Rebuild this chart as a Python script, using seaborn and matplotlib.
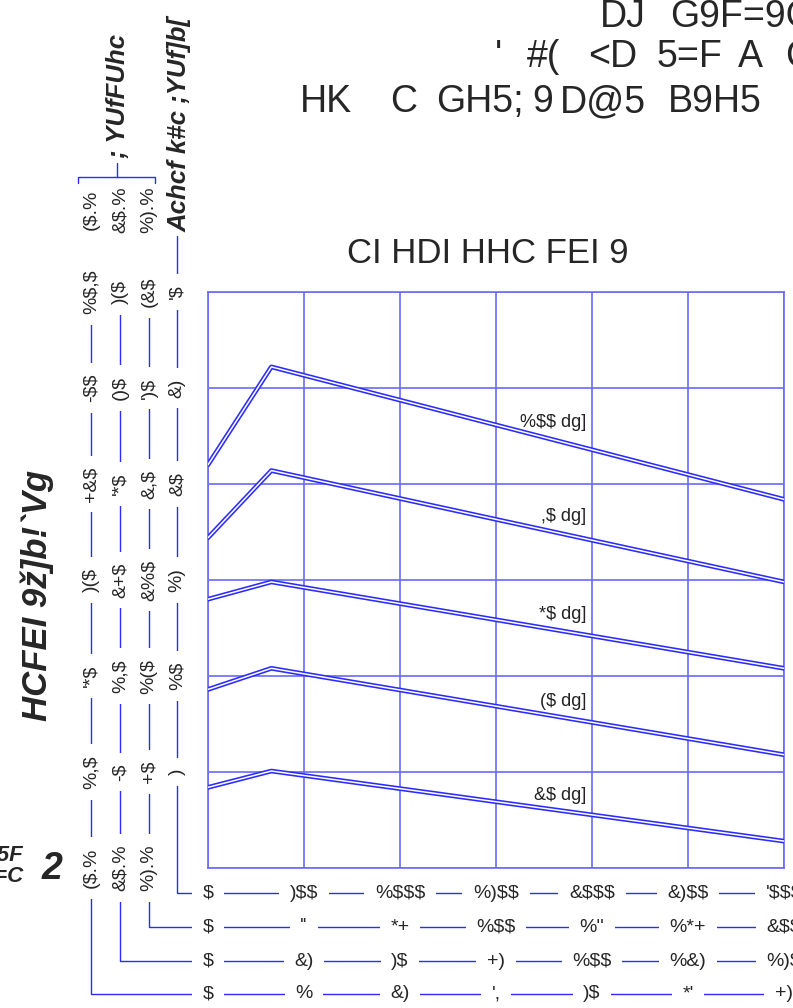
import matplotlib
matplotlib.use("Agg")
import matplotlib.pyplot as plt
import matplotlib.transforms as mtransforms
import pandas as pd
import seaborn as sns

# corners of each pressure curve (motor rpm, motor torque)
rpm = [0, 330, 3000]
torque_100psi = [21.0, 26.1, 19.2]
torque_80psi = [17.2, 20.7, 14.9]
torque_60psi = [14.0, 14.9, 10.4]
torque_40psi = [9.3, 10.4, 5.9]
torque_20psi = [4.2, 5.05, 1.4]
curve_names = ["%$$ dg]", ",$ dg]", "*$ dg]", "($ dg]", "&$ dg]"]
label_torque = [23.2, 18.3, 13.2, 8.65, 3.75]

grid_rpm = [0, 500, 1000, 1500, 2000, 2500, 3000]
grid_torque = [5, 10, 15, 20, 25, 30]

# speed scales under the chart, top row first
speed_motor = ["$", ")$$", "%$$$", "%)$$", "&$$$", "&)$$", "'$$$"]
speed_15 = ["$", "''", "*+", "%$$", "%''", "%*+", "&$$"]
speed_20 = ["$", "&)", ")$", "+)", "%$$", "%&)", "%)$"]
speed_40 = ["$", "%", "&)", "',", ")$", "*'", "+)"]

# torque scales left of the chart, bottom to top
torque_40 = ["%,$", "'*$", ")($", "+&$", "-$$", "%$,$"]
torque_20 = ["-$", "%,$", "&+$", "'*$", "()$", ")($"]
torque_15 = ["+$", "%($", "&%$", "&,$", "')$", "(&$"]
torque_motor = [")", "%$", "%)", "&$", "&)", "'$"]
ratio_names = ["($.%", "&$.%", "%).%"]

# title lines, split where the original lettering leaves gaps
title_1 = [("DJ", 600), ("G9F=9G", 670)]
title_2 = [("'", 495), ("#(", 527), ("<D", 588), ("5=F", 657), ("A", 738), ("C", 785)]
title_3 = [("HK", 300), ("C", 390), ("GH5;", 436), ("9", 532), ("D@5", 560), ("B9H5", 668)]

BLUE = "#2b2bff"
GRID = "#6a6aff"
FS = 14

sns.set_theme(style="white")
plt.rcParams["font.family"] = ["Liberation Sans", "DejaVu Sans"]
plt.rcParams["text.parse_math"] = False

fig = plt.figure(figsize=(7.93, 10.08), dpi=100)
# plot box: 208..784 px wide, 292..868 px tall
ax = fig.add_axes([208 / 793, 1 - 868 / 1008, 576 / 793, 576 / 1008])


def ax_x(px):
    return (px - 208) / 576


def ax_y(py):
    return (868 - py) / 576


curves = [torque_100psi, torque_80psi, torque_60psi, torque_40psi, torque_20psi]
rows = []
for name, vals in zip(curve_names, curves):
    for r, t in zip(rpm, vals):
        rows.append({"rpm": r, "torque": t, "psi": name})
df = pd.DataFrame(rows)

# double-line curves: thick blue under a thin white core
sns.lineplot(data=df, x="rpm", y="torque", units="psi", estimator=None,
             color=BLUE, lw=3.4, ax=ax, zorder=3)
sns.lineplot(data=df, x="rpm", y="torque", units="psi", estimator=None,
             color="white", lw=1.1, ax=ax, zorder=4)

for name, ty in zip(curve_names, label_torque):
    ax.text(1969, ty, name, ha="right", va="center", fontsize=13, color="#222222", zorder=5)

ax.set_xlim(0, 3000)
ax.set_ylim(0, 30)
ax.set_xticks(grid_rpm)
ax.set_yticks([0] + grid_torque)
ax.grid(True, color=GRID, lw=1.2)
ax.tick_params(length=0, labelbottom=False, labelleft=False)
ax.set_xlabel("")
ax.set_ylabel("")
for sp in ax.spines.values():
    sp.set_color(GRID)
    sp.set_linewidth(1.2)

col_tr = mtransforms.blended_transform_factory(ax.transAxes, ax.transData)
row_tr = mtransforms.blended_transform_factory(ax.transData, ax.transAxes)
box = dict(boxstyle="square,pad=0.55", fc="white", ec="none")

scales = [
    (91, torque_40, ratio_names[0], 994, speed_40),
    (120, torque_20, ratio_names[1], 961, speed_20),
    (149, torque_15, ratio_names[2], 927, speed_15),
    (177, torque_motor, None, 893, speed_motor),
]
for cx_px, tlabels, header, ry_px, slabels in scales:
    cx, ry = ax_x(cx_px), ax_y(ry_px)
    top = 1.0 if header else ax_y(236)
    ax.plot([cx, cx, 1.1], [top, ry, ry], color=BLUE, lw=1.0,
            transform=ax.transAxes, clip_on=False, zorder=1)
    for t, lab in zip(grid_torque, tlabels):
        ax.text(cx, t, lab, rotation=90, ha="center", va="center", fontsize=FS,
                transform=col_tr, clip_on=False, bbox=box, zorder=6)
    for r, lab in zip(grid_rpm, slabels):
        ax.text(r, ry, lab, ha="center", va="center", fontsize=FS,
                transform=row_tr, clip_on=False, bbox=box, zorder=6)
    if header:
        ax.text(cx, 0, header, rotation=90, ha="center", va="center", fontsize=FS,
                transform=col_tr, clip_on=False, bbox=box, zorder=6)
        ax.text(cx, ax_y(210), header, rotation=90, ha="center", va="center",
                fontsize=FS, transform=ax.transAxes, clip_on=False)

# bracket over the three gear ratio columns
ax.plot([ax_x(78), ax_x(78), ax_x(155), ax_x(155)],
        [ax_y(183), ax_y(177), ax_y(177), ax_y(183)],
        color=BLUE, lw=1.0, transform=ax.transAxes, clip_on=False)
ax.plot([ax_x(117), ax_x(117)], [ax_y(177), ax_y(163)],
        color=BLUE, lw=1.0, transform=ax.transAxes, clip_on=False)
ax.text(ax_x(118), ax_y(158), "; YUfFUhc", rotation=90, ha="center", va="bottom",
        fontsize=18.5, style="italic", weight="bold", transform=ax.transAxes, clip_on=False)
ax.text(ax_x(180), ax_y(232), "Achcf k#c ;YUf]b[", rotation=90, ha="center",
        va="bottom", fontsize=18.5, style="italic", weight="bold",
        transform=ax.transAxes, clip_on=False)

ax.text(ax_x(37), ax_y(595), "HCFEI 9\u017e]b!`Vg", rotation=90, ha="center",
        va="center", fontsize=25, style="italic", weight="bold",
        transform=ax.transAxes, clip_on=False)
ax.text(ax_x(24), ax_y(866), ";95F\nF5H=C", ha="right", va="center", fontsize=16,
        style="italic", weight="bold", multialignment="right", linespacing=1.05,
        transform=ax.transAxes, clip_on=False)
ax.text(ax_x(52), ax_y(869), "2", ha="center", va="center", fontsize=27,
        style="italic", weight="bold", transform=ax.transAxes, clip_on=False)

ax.text(ax_x(488), ax_y(263), "CI HDI HHC FEI 9", ha="center", va="baseline",
        fontsize=25, transform=ax.transAxes, clip_on=False)

for line, base in [(title_1, 27), (title_2, 67), (title_3, 112)]:
    for word, x_px in line:
        fig.text(x_px / 793, 1 - base / 1008, word, ha="left", va="baseline", fontsize=27)

fig.savefig("out.png", dpi=100)
